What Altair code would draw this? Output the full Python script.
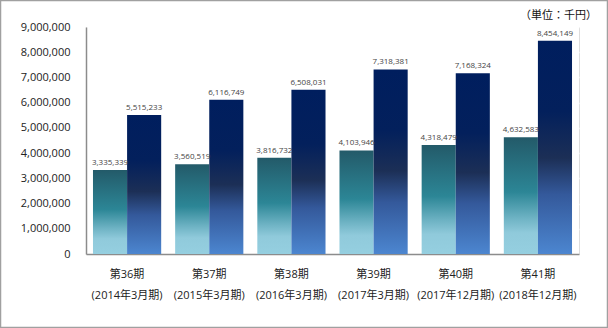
import altair as alt
import pandas as pd

periods = ["第36期|(2014年3月期)", "第37期|(2015年3月期)", "第38期|(2016年3月期)",
           "第39期|(2017年3月期)", "第40期|(2017年12月期)", "第41期|(2018年12月期)"]
series_a = [3335339, 3560519, 3816732, 4103946, 4318479, 4632583]
series_b = [5515233, 6116749, 6508031, 7318381, 7168324, 8454149]
series_names = ["A", "B"]
y_ticks = [0, 1000000, 2000000, 3000000, 4000000, 5000000, 6000000, 7000000, 8000000, 9000000]
unit_label = "（単位：千円）"

rows = []
for p, a, b in zip(periods, series_a, series_b):
    rows.append({"period": p, "series": "A", "value": a})
    rows.append({"period": p, "series": "B", "value": b})
df = pd.DataFrame(rows)

FONT = "Open Sans, Noto Sans CJK JP, sans-serif"

grad_a = alt.LinearGradient(
    gradient="linear", x1=0, x2=0, y1=0, y2=1,
    stops=[
        alt.GradientStop(color="#235a69", offset=0),
        alt.GradientStop(color="#2c8696", offset=0.47),
        alt.GradientStop(color="#6db2c3", offset=0.69),
        alt.GradientStop(color="#90cadb", offset=0.82),
        alt.GradientStop(color="#95cfe0", offset=1),
    ],
)
grad_b = alt.LinearGradient(
    gradient="linear", x1=0, x2=0, y1=0, y2=1,
    stops=[
        alt.GradientStop(color="#001e5e", offset=0),
        alt.GradientStop(color="#03205c", offset=0.33),
        alt.GradientStop(color="#1c2f56", offset=0.55),
        alt.GradientStop(color="#34599b", offset=0.72),
        alt.GradientStop(color="#4c86d0", offset=1),
    ],
)

x_enc = alt.X(
    "period:N", sort=periods, title=None,
    scale=alt.Scale(paddingInner=0.17, paddingOuter=0.085),
    axis=alt.Axis(
        labelExpr="split(datum.label, '|')", labelAngle=0, ticks=False,
        labelPadding=14, labelLineHeight=21, labelFontSize=11, labelColor="#222222",
        labelFont=FONT, domainColor="#8c8c8c", domainWidth=1.5, grid=False,
    ),
)
y_enc = alt.Y(
    "value:Q", title=None,
    scale=alt.Scale(domain=[0, 9000000], nice=False),
    axis=alt.Axis(
        values=y_ticks, labelExpr="format(datum.value, ',')", ticks=False, labelPadding=16,
        labelFontSize=11, labelColor="#222222", labelFont=FONT, domainColor="#8c8c8c",
        domainWidth=1.5, grid=True, gridColor="#ffffff", gridWidth=1.5,
    ),
)
xo_enc = alt.XOffset("series:N", scale=alt.Scale(domain=series_names, paddingInner=0, paddingOuter=0))

base = alt.Chart(df)

bars_a = base.transform_filter(alt.datum.series == "A").mark_bar(color=grad_a).encode(
    x=x_enc, xOffset=xo_enc, y=y_enc)
bars_b = base.transform_filter(alt.datum.series == "B").mark_bar(color=grad_b).encode(
    x=x_enc, xOffset=xo_enc, y=y_enc)
labels = base.mark_text(baseline="bottom", dy=-3, fontSize=8, color="#444444", font=FONT).encode(
    x=x_enc, xOffset=xo_enc, y=y_enc, text=alt.Text("value:Q", format=","))

border = alt.Chart(alt.Data(values=[{}])).mark_rect(filled=False, stroke="#a0a0a0", strokeWidth=1.5).encode(
    x=alt.value(-85.5), x2=alt.value(521.5), y=alt.value(-26.5), y2=alt.value(300.5))

unit = alt.Chart(alt.Data(values=[{"t": unit_label}])).mark_text(
    align="right", baseline="middle", fontSize=11, color="#111111", font=FONT).encode(
    text="t:N", x=alt.value(511), y=alt.value(-11))

chart = alt.layer(bars_a, bars_b, labels, border, unit).properties(
    width=493, height=227,
    padding={"left": 86, "top": 27, "right": 29, "bottom": 74},
    autosize=alt.AutoSizeParams(type="none"),
).configure_view(fill="#f0f0f0", stroke=None).configure(background="#ffffff")

chart.save("out.html", embed_options={"renderer": "svg", "actions": False})
